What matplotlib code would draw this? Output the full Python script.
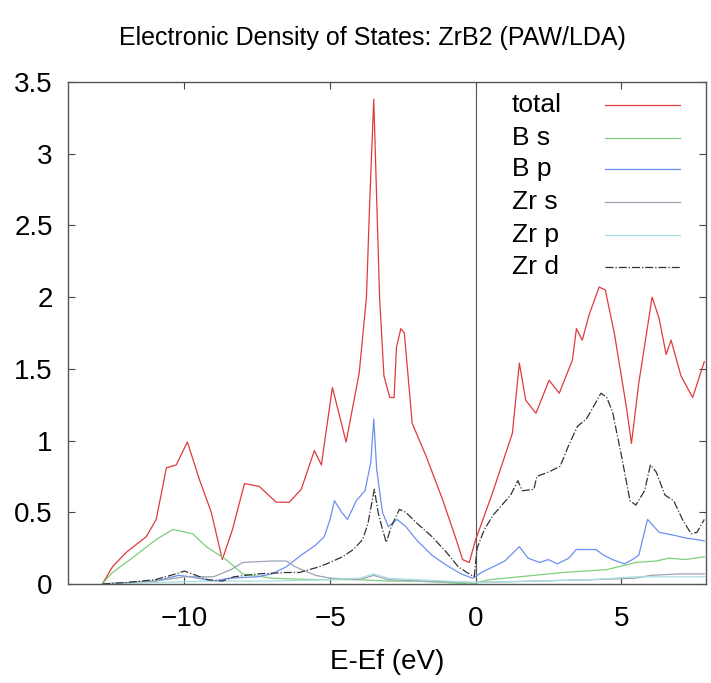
import matplotlib.pyplot as plt

plt.rcParams['font.family'] = ['Liberation Sans', 'DejaVu Sans']

# energies (eV relative to Ef) and DOS values
total_e = [-12.82, -12.47, -12.0, -11.31, -10.97, -10.62, -10.28, -9.9, -9.49, -9.08,
           -8.7, -8.35, -7.94, -7.43, -6.85, -6.4, -5.99, -5.54, -5.3, -4.92,
           -4.45, -4.0, -3.75, -3.65, -3.5, -3.38, -3.3, -3.15, -2.95, -2.8,
           -2.72, -2.57, -2.45, -2.18, -1.7, -1.14, -0.67, -0.45, -0.22, 0.0,
           0.57, 1.26, 1.5, 1.72, 2.07, 2.52, 2.87, 3.32, 3.46, 3.66,
           3.9, 4.24, 4.45, 4.76, 5.17, 5.35, 5.6, 6.06, 6.3, 6.54,
           6.71, 7.05, 7.45, 7.85]
total_v = [0.0, 0.12, 0.22, 0.33, 0.45, 0.81, 0.83, 0.99, 0.73, 0.5,
           0.17, 0.38, 0.7, 0.68, 0.57, 0.57, 0.66, 0.93, 0.83, 1.37,
           0.99, 1.47, 2.0, 2.6, 3.38, 2.55, 2.0, 1.45, 1.3, 1.3,
           1.65, 1.78, 1.75, 1.12, 0.89, 0.59, 0.31, 0.17, 0.15, 0.31,
           0.63, 1.05, 1.54, 1.28, 1.19, 1.42, 1.33, 1.56, 1.78, 1.7,
           1.88, 2.07, 2.05, 1.75, 1.24, 0.98, 1.4, 2.0, 1.85, 1.6,
           1.7, 1.45, 1.3, 1.55]

bs_e = [-12.82, -12.47, -11.8, -10.97, -10.4, -9.72, -9.25, -8.57, -8.0, -7.0,
        -5.5, -4.0, -3.0, -2.0, -1.0, -0.2, 0.5, 1.5, 3.0, 4.5,
        5.5, 6.2, 6.64, 7.2, 7.85]
bs_v = [0.0, 0.08, 0.18, 0.31, 0.38, 0.35, 0.26, 0.17, 0.07, 0.04,
        0.03, 0.03, 0.02, 0.02, 0.01, 0.0, 0.03, 0.05, 0.08, 0.1,
        0.15, 0.16, 0.18, 0.17, 0.19]

bp_e = [-12.82, -11.0, -10.2, -9.8, -9.0, -8.5, -7.5, -7.0, -6.5, -6.0,
        -5.5, -5.2, -5.0, -4.85, -4.6, -4.4, -4.1, -3.8, -3.6, -3.5,
        -3.4, -3.2, -3.0, -2.7, -2.4, -2.0, -1.5, -1.0, -0.5, -0.1,
        0.2, 0.6, 1.0, 1.5, 1.8, 2.19, 2.5, 2.8, 3.2, 3.45,
        4.13, 4.4, 4.7, 5.1, 5.38, 5.6, 5.9, 6.3, 6.8, 7.22,
        7.57, 7.85]
bp_v = [0.0, 0.02, 0.06, 0.05, 0.02, 0.04, 0.05, 0.07, 0.12, 0.2,
        0.27, 0.33, 0.45, 0.58, 0.5, 0.45, 0.58, 0.65, 0.85, 1.15,
        0.8, 0.5, 0.4, 0.45, 0.4, 0.3, 0.2, 0.13, 0.07, 0.04,
        0.08, 0.12, 0.16, 0.26, 0.18, 0.15, 0.17, 0.14, 0.18, 0.24,
        0.24, 0.2, 0.17, 0.14, 0.17, 0.2, 0.45, 0.36, 0.34, 0.32,
        0.31, 0.3]

zrs_e = [-12.82, -11.0, -10.0, -9.0, -8.4, -8.0, -7.0, -6.5, -6.2, -5.5,
         -5.0, -4.0, -3.5, -3.0, -2.0, 0.0, 2.0, 4.0, 5.5, 6.0,
         7.0, 7.85]
zrs_v = [0.0, 0.02, 0.05, 0.05, 0.1, 0.15, 0.16, 0.16, 0.12, 0.06,
         0.04, 0.03, 0.06, 0.03, 0.02, 0.01, 0.02, 0.03, 0.04, 0.06,
         0.07, 0.07]

zrp_e = [-12.82, -11.0, -9.0, -7.0, -5.0, -4.0, -3.5, -3.0, -1.0, 0.0,
         2.0, 4.0, 5.5, 6.5, 7.85]
zrp_v = [0.0, 0.01, 0.02, 0.02, 0.03, 0.04, 0.07, 0.04, 0.02, 0.01,
         0.02, 0.03, 0.05, 0.05, 0.05]

zrd_e = [-12.82, -12.0, -11.0, -10.3, -10.0, -9.6, -9.2, -8.7, -8.3, -7.5,
         -6.5, -6.05, -5.37, -5.0, -4.57, -4.2, -3.88, -3.7, -3.48, -3.35,
         -3.2, -3.07, -2.9, -2.62, -2.4, -2.0, -1.5, -1.0, -0.6, -0.3,
         -0.05, 0.05, 0.3, 0.6, 0.9, 1.2, 1.45, 1.6, 2.0, 2.1,
         2.5, 2.9, 3.2, 3.5, 3.8, 4.0, 4.3, 4.5, 4.7, 5.0,
         5.3, 5.5, 5.8, 6.0, 6.2, 6.5, 6.8, 7.1, 7.4, 7.6,
         7.85]
zrd_v = [0.0, 0.01, 0.03, 0.07, 0.09, 0.06, 0.03, 0.02, 0.05, 0.07,
         0.08, 0.08, 0.12, 0.15, 0.19, 0.24, 0.31, 0.42, 0.66, 0.5,
         0.38, 0.29, 0.4, 0.52, 0.5, 0.42, 0.33, 0.22, 0.12, 0.08,
         0.05, 0.25, 0.38, 0.48, 0.55, 0.62, 0.72, 0.65, 0.66, 0.75,
         0.78, 0.82, 0.97, 1.1, 1.15, 1.22, 1.33, 1.3, 1.2, 0.9,
         0.58, 0.55, 0.65, 0.83, 0.78, 0.62, 0.58, 0.45, 0.35, 0.36,
         0.45]

labels = ['total', 'B s', 'B p', 'Zr s', 'Zr p', 'Zr d']
colors = ['#e03a3a', '#7ccf7c', '#6f8ff0', '#9aa4b4', '#a8e0e0', '#333333']
styles = ['-', '-', '-', '-', '-', '-.']
series = [(total_e, total_v), (bs_e, bs_v), (bp_e, bp_v),
          (zrs_e, zrs_v), (zrp_e, zrp_v), (zrd_e, zrd_v)]

fig = plt.figure(figsize=(7.11, 6.83), dpi=100)
ax = fig.add_axes([0.0956, 0.145, 0.897, 0.735])

ax.axvline(0, color='#555555', linewidth=0.8)
for (e, v), lab, c, ls in zip(series, labels, colors, styles):
    ax.plot(e, v, color=c, linewidth=0.9, linestyle=ls, label=lab)

ax.set_xlim(-14.0, 7.9)
ax.set_ylim(0, 3.5)
ax.set_xticks([-10, -5, 0, 5])
ax.set_yticks([0, 0.5, 1, 1.5, 2, 2.5, 3, 3.5])
ax.set_yticklabels(['0', '0.5', '1', '1.5', '2', '2.5', '3', '3.5'])
ax.tick_params(direction='in', top=True, right=True, length=5, width=0.8,
               labelsize=20, color='#444444')
ax.tick_params(axis='x', pad=16)
ax.tick_params(axis='y', pad=11)
for s in ax.spines.values():
    s.set_color('#555555')
    s.set_linewidth(1.0)

ax.set_xlabel('E-Ef (eV)', fontsize=20, labelpad=12)
fig.text(0.524, 0.945, 'Electronic Density of States: ZrB2 (PAW/LDA)',
         ha='center', va='center', fontsize=18)

# gnuplot-style key: labels left-aligned, sample lines to the right
key_y = [0.955, 0.889, 0.826, 0.761, 0.696, 0.632]
for y, lab, c, ls in zip(key_y, labels, colors, styles):
    ax.text(0.696, y, lab, transform=ax.transAxes, fontsize=19, va='center', ha='left')
    ax.plot([0.842, 0.959], [y, y], transform=ax.transAxes, color=c,
            linewidth=0.9, linestyle=ls, clip_on=False)

fig.savefig('out.png', dpi=100)
